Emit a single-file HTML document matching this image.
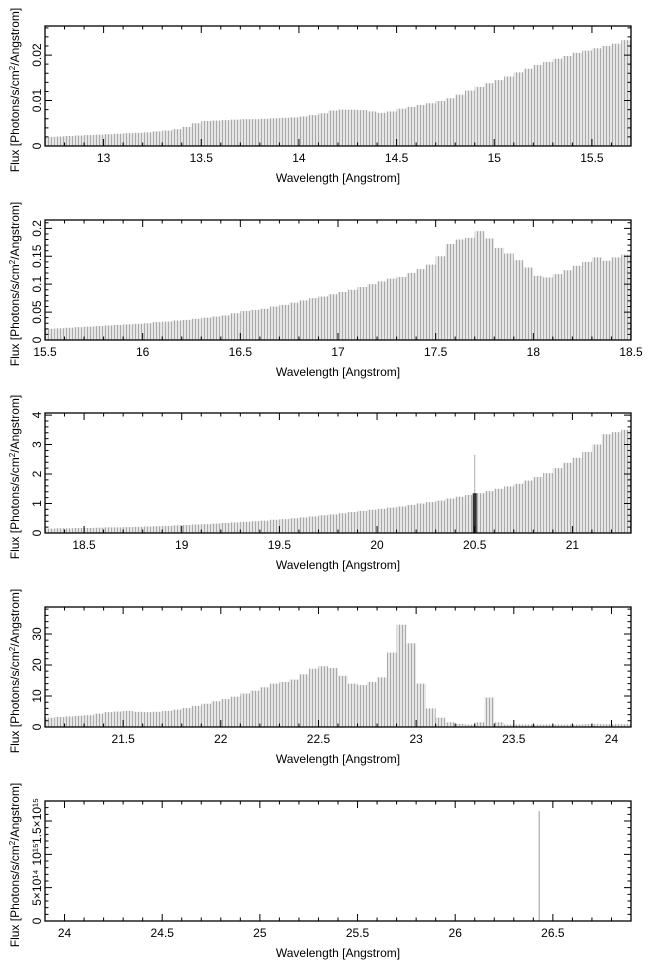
<!DOCTYPE html>
<html><head><meta charset="utf-8">
<style>
html,body{margin:0;padding:0;background:#fff;}
svg{display:block;font-family:"Liberation Sans",sans-serif;}
</style></head>
<body>
<svg id="chart" width="653" height="972" viewBox="0 0 653 972" xmlns="http://www.w3.org/2000/svg">
<defs>
<pattern id="stripes" patternUnits="userSpaceOnUse" width="3" height="10">
<rect x="0" y="0" width="3" height="10" fill="#e6e6e6"/>
<rect x="0" y="0" width="1" height="10" fill="#a9a9a9"/>
</pattern>
</defs>
</svg>
<script>
// ---- data (bin left edges start at panel xmin, width 0.05 A) ----
const p1Values = [0.0020,0.0021,0.0022,0.0023,0.0024,0.0025,0.0026,0.0027,0.0028,0.0029,0.0030,0.0032,0.0034,0.0037,0.0042,0.0050,0.0055,0.0056,0.0057,0.0058,0.0059,0.0059,0.0060,0.0061,0.0062,0.0063,0.0065,0.0068,0.0072,0.0078,0.0080,0.0080,0.0079,0.0076,0.0073,0.0076,0.0082,0.0086,0.0090,0.0094,0.0099,0.0105,0.0113,0.0122,0.0130,0.0138,0.0145,0.0153,0.0162,0.0170,0.0178,0.0185,0.0192,0.0198,0.0205,0.0210,0.0215,0.0220,0.0225,0.0233];
const p2Values = [0.020,0.021,0.022,0.023,0.024,0.025,0.026,0.027,0.028,0.029,0.030,0.032,0.033,0.035,0.036,0.038,0.040,0.042,0.044,0.048,0.052,0.054,0.056,0.060,0.063,0.067,0.071,0.075,0.078,0.082,0.086,0.090,0.095,0.100,0.105,0.110,0.113,0.120,0.127,0.135,0.150,0.172,0.180,0.183,0.195,0.182,0.165,0.155,0.143,0.130,0.115,0.112,0.118,0.125,0.133,0.140,0.148,0.142,0.148,0.153];
const p3Values = [0.15,0.16,0.16,0.17,0.17,0.18,0.19,0.19,0.20,0.21,0.22,0.23,0.24,0.26,0.27,0.29,0.30,0.32,0.34,0.36,0.38,0.40,0.42,0.45,0.47,0.50,0.53,0.56,0.60,0.63,0.67,0.71,0.75,0.79,0.82,0.86,0.90,0.95,1.00,1.05,1.10,1.17,1.23,1.29,1.35,1.42,1.50,1.58,1.67,1.78,1.90,2.03,2.20,2.38,2.55,2.75,3.00,3.35,3.42,3.50];
const p4Values = [3.0,3.2,3.4,3.6,3.8,4.3,4.8,5.0,5.2,4.9,4.8,4.9,5.2,5.6,6.1,6.8,7.5,8.3,9.0,9.8,10.8,11.7,12.8,14.0,14.5,15.3,17.0,18.8,19.6,19.0,16.5,14.0,13.5,14.5,16.0,24.0,33.0,27.0,14.0,6.0,3.0,1.5,1.0,0.8,1.5,9.5,1.5,0.8,0.8,0.8,0.8,0.8,0.8,0.8,0.8,0.9,0.9,0.9,0.9,0.9];
const p5Values = [];
// spikes (wavelength, flux)
const p3SpikeX = [20.5];
const p3SpikeDark = [1.35];
const p3SpikeLine = [2.65];
const p5SpikeX = [26.43];
const p5SpikeY = [1.65e15];
// axes
const panelXmin = [12.7,15.5,18.3,21.1,23.9];
const panelYmax = [0.0264,0.215,4.07,38.7,1.8e15];
const p1YTicks = [0,0.01,0.02];
const p2YTicks = [0,0.05,0.1,0.15,0.2];
const p3YTicks = [0,1,2,3,4];
const p4YTicks = [0,10,20,30];
const p5YTicks = [0,5e14,1e15,1.5e15];
const p1YLabels = ["0","0.01","0.02"];
const p2YLabels = ["0","0.05","0.1","0.15","0.2"];
const p3YLabels = ["0","1","2","3","4"];
const p4YLabels = ["0","10","20","30"];
const p5YLabels = ["0","5×10¹⁴","10¹⁵","1.5×10¹⁵"];
const yMinorStep = [0.002,0.01,0.2,2,1e14];

const NS="http://www.w3.org/2000/svg";
const svg=document.getElementById('chart');
const L=45,R=631,H=120;
const tops=[26,220,413,607,801];
const BIN=0.05, SPAN=3.0;
function mk(tag,attrs,parent){const e=document.createElementNS(NS,tag);for(const k in attrs)e.setAttribute(k,attrs[k]);(parent||svg).appendChild(e);return e;}

const allVals=[p1Values,p2Values,p3Values,p4Values,p5Values];
const allYT=[p1YTicks,p2YTicks,p3YTicks,p4YTicks,p5YTicks];
const allYL=[p1YLabels,p2YLabels,p3YLabels,p4YLabels,p5YLabels];

for(let p=0;p<5;p++){
  const top=tops[p],bot=top+H,xmin=panelXmin[p],ymax=panelYmax[p];
  const xs=v=>L+(v-xmin)/SPAN*(R-L);
  const ys=v=>bot-Math.min(v,ymax)/ymax*H;
  const g=mk('g',{});
  
  
  const vals=allVals[p];
  for(let i=0;i<vals.length;i++){
    const x0=xs(xmin+i*BIN), x1=Math.min(xs(xmin+(i+1)*BIN),R);
    const y=ys(vals[i]);
    const r=mk('rect',{x:x0,y:y,width:Math.max(0,x1-x0),height:bot-y,fill:'url(#stripes)'},g);
    
    
  }
  if(p===2){
    for(let i=0;i<p3SpikeX.length;i++){
      const ln=mk('line',{x1:xs(p3SpikeX[i]),x2:xs(p3SpikeX[i]),y1:bot,y2:ys(p3SpikeLine[i]),stroke:'#aaa','stroke-width':1},g);
      
      
      const b=mk('rect',{x:xs(p3SpikeX[i])-2,y:ys(p3SpikeDark[i]),width:4,height:bot-ys(p3SpikeDark[i]),fill:'#333'},g);
      
      
    }
  }
  if(p===4){
    for(let i=0;i<p5SpikeX.length;i++){
      const ln=mk('line',{x1:xs(p5SpikeX[i]),x2:xs(p5SpikeX[i]),y1:bot,y2:ys(p5SpikeY[i]),stroke:'#999','stroke-width':1},g);
      
      
    }
  }
  const fr=mk('rect',{x:L,y:top,width:R-L,height:H,fill:'none',stroke:'#000','stroke-width':1.3},g);
  
  
  let d='';
  for(let k=Math.ceil(xmin*10-1e-6);k<=Math.floor((xmin+SPAN)*10+1e-6);k++){
    const v=k/10,x=xs(v);if(x<L||x>R)continue;
    const major=(k%5===0),len=major?7:3.5;
    d+=`M${x} ${bot}v${-len}M${x} ${top}v${len}`;
    if(major){
      const t=mk('text',{x:x,y:bot+16,'text-anchor':'middle','font-size':12,fill:'#000'},g);
      t.textContent=String(+v.toFixed(1));
      
      
    }
  }
  const st=yMinorStep[p];
  for(let k=0;k*st<=ymax*1.0001;k++){
    const y=ys(k*st);d+=`M${L} ${y}h3.5M${R} ${y}h-3.5`;
  }
  const yt=allYT[p],yl=allYL[p];
  for(let i=0;i<yt.length;i++){
    const y=ys(yt[i]);d+=`M${L} ${y}h7M${R} ${y}h-7`;
    const t=mk('text',{x:0,y:0,'text-anchor':'middle','font-size':12,fill:'#000',transform:`translate(41 ${y}) rotate(-90)`},g);
    t.textContent=yl[i];
    
    
  }
  const tk=mk('path',{d:d,stroke:'#000','stroke-width':1,fill:'none'},g);
  
  
  const xt=mk('text',{x:(L+R)/2,y:bot+36,'text-anchor':'middle','font-size':12,fill:'#000'},g);
  xt.textContent='Wavelength [Angstrom]';
  
  
  const ytt=mk('text',{x:0,y:0,'text-anchor':'middle','font-size':12,fill:'#000',transform:`translate(19 ${top+H/2+4}) rotate(-90)`},g);
  ytt.innerHTML='Flux [Photons/s/cm<tspan font-size="8" dy="-4">2</tspan><tspan dy="4">/Angstrom]</tspan>';
  
  
}
</script>
</body></html>
